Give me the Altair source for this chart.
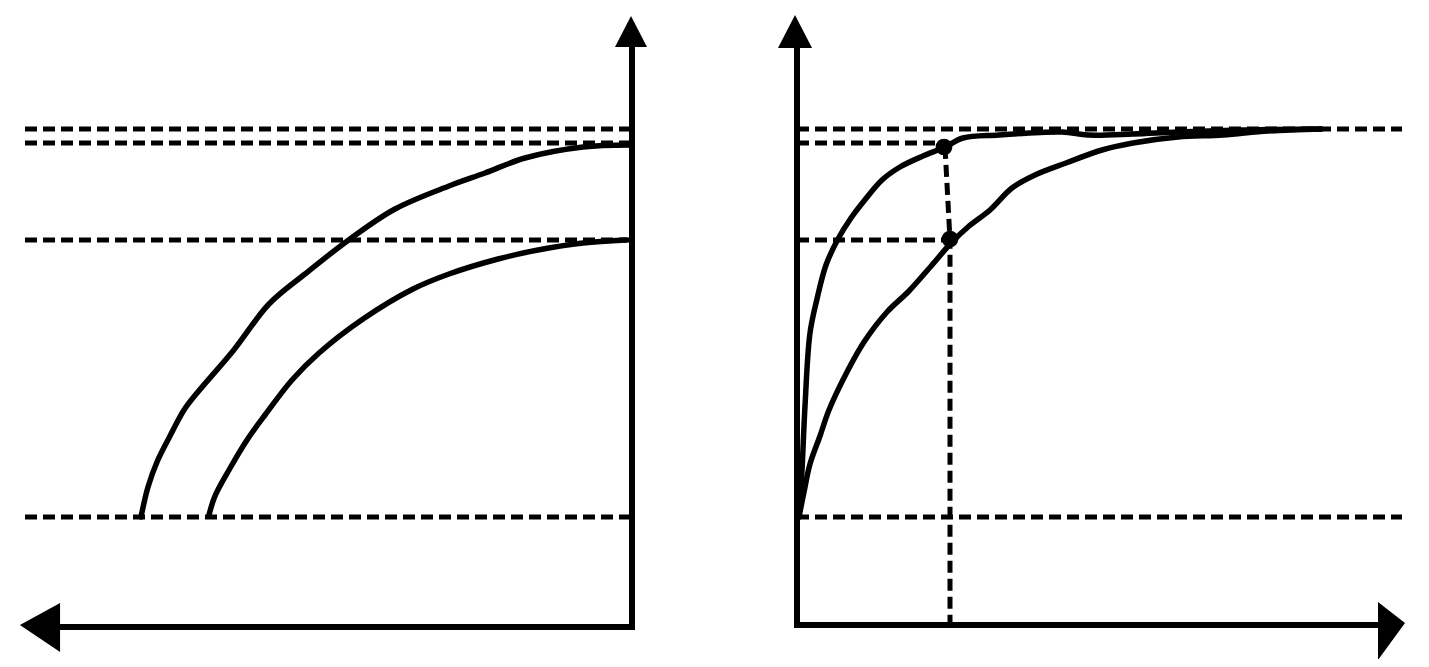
import altair as alt
import pandas as pd

# ---- diagram coordinates (x to the right, y downward) ----
# left panel curves
left_outer_x = [141, 148, 157, 170, 184, 197, 233, 269, 305, 350, 395, 449, 485, 525, 583, 630]
left_outer_y = [517, 487, 462, 436, 410, 393, 351, 304, 274, 239, 209, 186, 173, 158, 147, 145]
left_inner_x = [209, 215, 229, 247, 265, 292, 319, 363, 413, 449, 498, 538, 583, 626]
left_inner_y = [515, 496, 470, 440, 415, 380, 353, 319, 289, 274, 259, 250, 243, 240]
# right panel curves
right_fast_x = [799, 802, 805, 810, 817, 826, 838, 851, 864, 882, 900, 923, 945, 963, 999, 1062, 1088, 1133, 1178, 1245, 1321]
right_fast_y = [517, 470, 406, 333, 299, 265, 239, 218, 201, 180, 167, 156, 147, 138, 135, 132, 135, 134, 132, 130, 129]
right_slow_x = [799, 804, 810, 820, 829, 847, 864, 887, 909, 932, 952, 968, 990, 1012, 1035, 1066, 1102, 1133, 1178, 1223, 1268, 1321]
right_slow_y = [517, 492, 464, 436, 410, 372, 342, 312, 291, 265, 242, 227, 210, 188, 175, 163, 150, 143, 137, 135, 131, 129]

# axes (polyline: top of y axis -> corner -> end of x axis)
axis_left_x = [632, 632, 58]
axis_left_y = [45, 627, 627]
axis_right_x = [797, 797, 1382]
axis_right_y = [45, 625, 625]

# dashed guide lines
dash_ids = ["L1", "L2", "L3", "L4", "R1", "R2", "R3", "R4"]
dash_x1 = [25, 25, 25, 25, 797, 797, 797, 797]
dash_x2 = [630, 630, 630, 630, 1402, 945, 950, 1402]
dash_y = [129, 143, 240, 517, 129, 143, 240, 517]
drop_x = [945, 950, 950]
drop_y = [147, 240, 625]

# marked points
dot_x = [944, 950]
dot_y = [147, 239]

# arrowheads
arrow_x = [631, 40, 795, 1391.5]
arrow_y = [31.5, 627.5, 31.5, 630]
arrow_path = [
    "M0,-0.97L1,0.97L-1,0.97Z",
    "M-0.82,-0.1L0.82,-1L0.82,1Z",
    "M0,-0.97L1,0.97L-1,0.97Z",
    "M0.45,-0.23L-0.45,-0.93L-0.45,1Z",
]
arrow_size = [1024, 2401, 1156, 3600]

# ---- tables ----
def poly(name, xs, ys):
    return [{"id": name, "i": i, "x": x, "y": y} for i, (x, y) in enumerate(zip(xs, ys))]

curves = pd.DataFrame(
    poly("lo", left_outer_x, left_outer_y)
    + poly("li", left_inner_x, left_inner_y)
    + poly("rf", right_fast_x, right_fast_y)
    + poly("rs", right_slow_x, right_slow_y)
)
axes = pd.DataFrame(poly("al", axis_left_x, axis_left_y) + poly("ar", axis_right_x, axis_right_y))
dash_rows = []
for k, (a, b, yy) in enumerate(zip(dash_x1, dash_x2, dash_y)):
    dash_rows += poly(dash_ids[k], [a, b], [yy, yy])
dash_rows += poly("drop", drop_x, drop_y)
dashes = pd.DataFrame(dash_rows)
dots = pd.DataFrame({"x": dot_x, "y": dot_y})
arrows = pd.DataFrame({"x": arrow_x, "y": arrow_y, "shape": arrow_path, "size": arrow_size})

X = alt.X("x:Q", scale=alt.Scale(domain=[8, 1421], nice=False, zero=False), axis=None)
Y = alt.Y("y:Q", scale=alt.Scale(domain=[8, 659], nice=False, zero=False, reverse=True), axis=None)

dash_layer = alt.Chart(dashes).mark_line(
    color="black", strokeWidth=5, strokeDash=[12, 6], strokeCap="butt"
).encode(x=X, y=Y, detail="id:N", order="i:Q")

curve_layer = alt.Chart(curves).mark_line(
    color="black", strokeWidth=5.5, strokeCap="round", strokeJoin="round", interpolate="catmull-rom"
).encode(x=X, y=Y, detail="id:N", order="i:Q")

axis_layer = alt.Chart(axes).mark_line(
    color="black", strokeWidth=6, strokeCap="butt", strokeJoin="miter"
).encode(x=X, y=Y, detail="id:N", order="i:Q")

dot_layer = alt.Chart(dots).mark_circle(color="black", size=280, opacity=1).encode(x=X, y=Y)

arrow_layer = alt.Chart(arrows).mark_point(
    filled=True, color="black", opacity=1, strokeWidth=2, strokeJoin="round"
).encode(
    x=X, y=Y,
    shape=alt.Shape("shape:N", scale=None),
    size=alt.Size("size:Q", scale=None),
)

chart = alt.layer(dash_layer, curve_layer, axis_layer, dot_layer, arrow_layer).properties(
    width=1413, height=651, padding=0, autosize=alt.AutoSizeParams(type="none")
).configure_view(stroke=None, fill=None)

chart.save("out.html", embed_options={"renderer": "svg", "actions": False})
